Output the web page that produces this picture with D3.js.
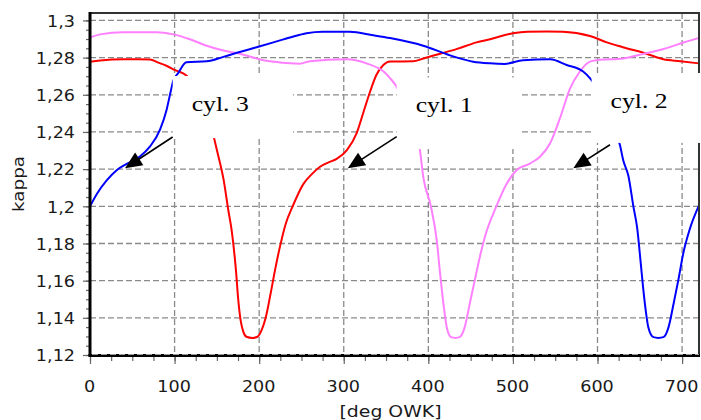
<!DOCTYPE html>
<html>
<head>
<meta charset="utf-8">
<script src="https://cdn.jsdelivr.net/npm/d3@7"></script>
<style>
  html, body { margin: 0; padding: 0; background: #fff; }
  svg { display: block; }
</style>
</head>
<body>
<svg id="chart" width="701" height="420"></svg>
<script>
// Crank angle [deg OWK] and polytropic exponent kappa, one pair of arrays per cylinder
const cyl1Deg = [0, 12, 40, 71, 80, 91, 100, 114, 125, 137, 146, 150, 158, 163.5, 167.4, 172.5, 175.3, 178, 181.2, 185, 192, 198, 203, 208, 213.6, 218.8, 224.6, 231.6, 239.6, 252, 262, 272, 282, 291.6, 303.5, 315.3, 323.2, 331, 338.4, 346.8, 354.7, 382, 394, 414, 434, 457, 473, 500, 517, 540, 559, 591, 611, 630, 658, 678, 698, 720];
const cyl1Kappa = [1.2778, 1.2785, 1.2791, 1.2790, 1.2774, 1.2755, 1.2734, 1.2704, 1.2645, 1.2520, 1.2380, 1.2303, 1.2142, 1.1980, 1.1873, 1.1658, 1.1496, 1.1389, 1.1326, 1.1298, 1.1292, 1.1298, 1.1335, 1.1406, 1.1532, 1.1658, 1.1783, 1.1909, 1.2000, 1.2118, 1.2172, 1.2213, 1.2236, 1.2255, 1.2301, 1.2394, 1.2505, 1.2615, 1.2705, 1.2760, 1.2779, 1.2780, 1.2795, 1.2821, 1.2847, 1.2882, 1.2899, 1.2931, 1.2939, 1.2940, 1.2939, 1.2916, 1.2882, 1.2856, 1.2821, 1.2791, 1.2781, 1.2769];

const cyl2Deg = [0, 12, 39, 79, 98.5, 118, 138, 157.6, 177, 205, 224.6, 236.5, 248, 260, 303.5, 327, 346.8, 354.7, 362.6, 376, 386, 390, 394, 403, 410, 414, 418, 422, 427, 432, 437, 443, 449, 455, 461, 467, 480, 492.6, 504.5, 520, 532, 544, 555.7, 567.5, 579, 591, 599, 630.5, 654, 678, 701.5, 720];
const cyl2Kappa = [1.2908, 1.2925, 1.2937, 1.2937, 1.2925, 1.2899, 1.2864, 1.2838, 1.2821, 1.2786, 1.2774, 1.2769, 1.2767, 1.2781, 1.2791, 1.2769, 1.2726, 1.2690, 1.2642, 1.2490, 1.2370, 1.2304, 1.2158, 1.2000, 1.1815, 1.1634, 1.1471, 1.1344, 1.1296, 1.1292, 1.1296, 1.1350, 1.1477, 1.1604, 1.1730, 1.1838, 1.1995, 1.2121, 1.2195, 1.2230, 1.2267, 1.2339, 1.2475, 1.2633, 1.2724, 1.2778, 1.2786, 1.2795, 1.2820, 1.2846, 1.2881, 1.2906];

const cyl3Deg = [0, 7.9, 19.7, 31.5, 43.3, 59, 71, 82.8, 90.6, 96, 98.5, 104, 114, 138, 157.6, 177, 197, 216.8, 236.5, 256, 275, 307, 335, 354.7, 394, 425.6, 453, 473, 490, 512, 544, 563.6, 583, 591, 603, 615, 626.6, 630.5, 636.5, 642.4, 647, 651, 654, 657, 660, 666, 672, 678, 684, 690, 695.6, 701.5, 709, 720];
const cyl3Kappa = [1.2000, 1.2065, 1.2139, 1.2194, 1.2228, 1.2268, 1.2322, 1.2413, 1.2520, 1.2630, 1.2676, 1.2715, 1.2775, 1.2780, 1.2804, 1.2830, 1.2856, 1.2882, 1.2908, 1.2931, 1.2939, 1.2939, 1.2920, 1.2905, 1.2864, 1.2812, 1.2778, 1.2769, 1.2766, 1.2786, 1.2791, 1.2760, 1.2725, 1.2690, 1.2610, 1.2470, 1.2328, 1.2246, 1.2164, 1.2000, 1.1880, 1.1700, 1.1560, 1.1440, 1.1350, 1.1296, 1.1292, 1.1296, 1.1350, 1.1477, 1.1604, 1.1749, 1.1876, 1.2005];

const seriesNames = ["cyl. 1", "cyl. 2", "cyl. 3"];
const seriesColors = ["#ff0000", "#ff80ff", "#0000ff"];

const xTicks = [0, 100, 200, 300, 400, 500, 600, 700];
const xTickLabels = ["0", "100", "200", "300", "400", "500", "600", "700"];
const yTicks = [1.12, 1.14, 1.16, 1.18, 1.2, 1.22, 1.24, 1.26, 1.28, 1.3];
const yTickLabels = ["1,12", "1,14", "1,16", "1,18", "1,2", "1,22", "1,24", "1,26", "1,28", "1,3"];

const xTitle = "[deg OWK]";
const yTitle = "kappa";

// Callouts: label, box corners [deg, kappa], arrow start and tip [deg, kappa]
const calloutLabels = ["cyl. 3", "cyl. 1", "cyl. 2"];
const calloutBoxes = [
  [[97.8, 1.2701], [240, 1.2367]],
  [[362.6, 1.2693], [508.4, 1.2308]],
  [[593, 1.2717], [730, 1.2341]]
];
const calloutArrows = [
  [[97.7, 1.2373], [41.4, 1.2205]],
  [[362.6, 1.2375], [304.8, 1.2205]],
  [[614.8, 1.2331], [571.4, 1.2205]]
];

const svg = d3.select("#chart");
const W = 701, H = 420;
const plotLeft = 90, plotRight = 699, plotTop = 13, plotBottom = 355;

const x = d3.scaleLinear().domain([0, 720]).range([plotLeft, plotRight]);
const y = d3.scaleLinear().domain([1.12, 1.304]).range([plotBottom, plotTop]);

svg.append("rect").attr("width", W).attr("height", H).attr("fill", "#fff");

// dashed grid
const grid = svg.append("g").attr("stroke", "#8a8a8a").attr("stroke-width", 1.3)
  .attr("stroke-dasharray", "6,3").attr("fill", "none");
grid.selectAll("line.v").data(xTicks.filter(d => d > 0)).join("line")
  .attr("class", "v")
  .attr("x1", d => x(d)).attr("x2", d => x(d))
  .attr("y1", plotTop).attr("y2", plotBottom);
grid.selectAll("line.h").data(yTicks.filter(d => d > 1.12)).join("line")
  .attr("class", "h")
  .attr("x1", plotLeft).attr("x2", plotRight)
  .attr("y1", d => y(d)).attr("y2", d => y(d));

// curves
const line = d3.line().x(d => x(d[0])).y(d => y(d[1])).curve(d3.curveMonotoneX);
const series = [
  d3.zip(cyl1Deg, cyl1Kappa),
  d3.zip(cyl2Deg, cyl2Kappa),
  d3.zip(cyl3Deg, cyl3Kappa)
];
svg.append("g").selectAll("path").data(series).join("path")
  .attr("d", line)
  .attr("fill", "none")
  .attr("stroke", (d, i) => seriesColors[i])
  .attr("stroke-width", 2)
  .attr("stroke-linejoin", "round");

// frame (top and right)
svg.append("line").attr("x1", plotLeft).attr("x2", plotRight + 1).attr("y1", plotTop).attr("y2", plotTop)
  .attr("stroke", "#333").attr("stroke-width", 2);
svg.append("line").attr("x1", plotRight).attr("x2", plotRight).attr("y1", plotTop).attr("y2", plotBottom)
  .attr("stroke", "#333").attr("stroke-width", 2);

// axes: minor ticks, major ticks with labels
const tickColor = "#666";
const fontFamily = "'DejaVu Sans', sans-serif";

const xMinor = svg.append("g").attr("transform", `translate(0,${plotBottom})`)
  .call(d3.axisBottom(x).tickValues(d3.range(0, 721, 25)).tickSize(6).tickFormat(""));
const xMajor = svg.append("g").attr("transform", `translate(0,${plotBottom})`)
  .call(d3.axisBottom(x).tickValues(xTicks).tickSize(9).tickFormat((d, i) => xTickLabels[i]));
const yMinor = svg.append("g").attr("transform", `translate(${plotLeft},0)`)
  .call(d3.axisLeft(y).tickValues(d3.range(1.12, 1.3041, 0.005)).tickSize(4).tickFormat(""));
const yMajor = svg.append("g").attr("transform", `translate(${plotLeft},0)`)
  .call(d3.axisLeft(y).tickValues(yTicks).tickSize(7).tickFormat((d, i) => yTickLabels[i]));

[xMinor, xMajor, yMinor, yMajor].forEach(g => {
  g.select(".domain").remove();
  g.selectAll(".tick line").attr("stroke", tickColor).attr("stroke-width", 1.2);
});

xMajor.selectAll(".tick text")
  .attr("x", null).attr("y", 0).attr("dy", null)
  .attr("transform", "translate(-1,36.5) scale(1.1,1)")
  .attr("fill", "#1a1a1a").attr("font-size", 16).attr("font-family", fontFamily);
yMajor.selectAll(".tick text")
  .attr("x", 0).attr("dy", "0.36em")
  .attr("transform", "translate(-15,0) scale(1.1,1)")
  .attr("fill", "#1a1a1a").attr("font-size", 16).attr("font-family", fontFamily);

// thick axis lines
svg.append("line").attr("x1", plotLeft).attr("x2", plotLeft).attr("y1", plotTop - 1).attr("y2", plotBottom + 1.5)
  .attr("stroke", "#000").attr("stroke-width", 3);
svg.append("line").attr("x1", plotLeft - 1.5).attr("x2", plotRight + 1).attr("y1", plotBottom + 0.5).attr("y2", plotBottom + 0.5)
  .attr("stroke", "#000").attr("stroke-width", 3);
// baseline grid row drawn over the axis
svg.append("line").attr("x1", plotLeft + 2).attr("x2", plotRight).attr("y1", plotBottom - 0.5).attr("y2", plotBottom - 0.5)
  .attr("stroke", "#9a9a9a").attr("stroke-width", 1).attr("stroke-dasharray", "6,3");

// axis titles
svg.append("text")
  .attr("transform", "translate(24,184) rotate(-90)")
  .attr("text-anchor", "middle")
  .attr("font-size", 16).attr("font-family", fontFamily).attr("fill", "#1a1a1a")
  .attr("textLength", 56).attr("lengthAdjust", "spacingAndGlyphs")
  .text(yTitle);
svg.append("text")
  .attr("x", (plotLeft + plotRight) / 2 - 4).attr("y", 417)
  .attr("text-anchor", "middle")
  .attr("font-size", 16).attr("font-family", fontFamily).attr("fill", "#1a1a1a")
  .attr("textLength", 102).attr("lengthAdjust", "spacingAndGlyphs")
  .text(xTitle);

// callout boxes with labels
const notes = svg.append("g");
calloutBoxes.forEach((b, i) => {
  const x0 = x(b[0][0]), x1 = x(b[1][0]);
  const y0 = y(b[0][1]), y1 = y(b[1][1]);
  notes.append("rect")
    .attr("x", x0).attr("y", y0)
    .attr("width", x1 - x0).attr("height", y1 - y0)
    .attr("fill", "#fff");
  notes.append("text")
    .attr("x", x0 + 19).attr("y", y0 + 35)
    .attr("font-family", "'Liberation Serif', 'Times New Roman', serif")
    .attr("font-size", 22).attr("fill", "#000")
    .attr("textLength", 57).attr("lengthAdjust", "spacingAndGlyphs")
    .text(calloutLabels[i]);
});

// arrows
const headLen = 17, headHalf = 7.5;
calloutArrows.forEach(a => {
  const sx = x(a[0][0]), sy = y(a[0][1]);
  const tx = x(a[1][0]), ty = y(a[1][1]);
  const dx = tx - sx, dy = ty - sy, len = Math.hypot(dx, dy);
  const ux = dx / len, uy = dy / len;
  const bx = tx - ux * headLen, by = ty - uy * headLen;
  notes.append("line")
    .attr("x1", sx).attr("y1", sy).attr("x2", bx + ux * 2).attr("y2", by + uy * 2)
    .attr("stroke", "#000").attr("stroke-width", 1.6);
  notes.append("path")
    .attr("d", `M${tx},${ty}L${bx - uy * headHalf},${by + ux * headHalf}L${bx + uy * headHalf},${by - ux * headHalf}Z`)
    .attr("fill", "#000");
});
</script>
</body>
</html>
